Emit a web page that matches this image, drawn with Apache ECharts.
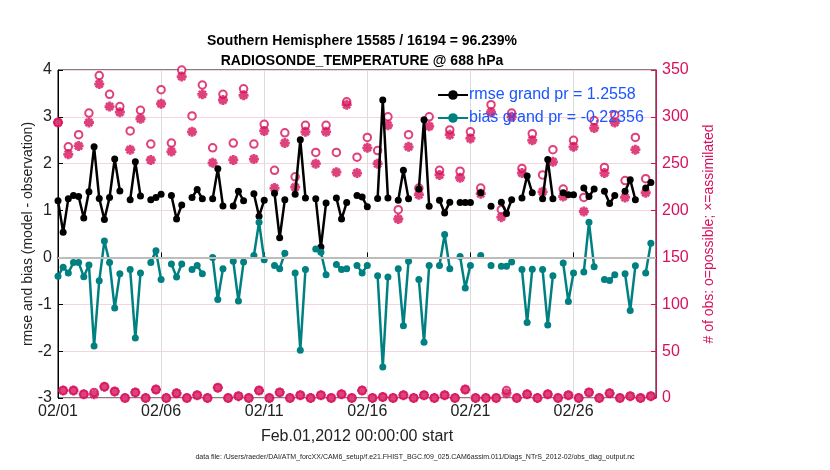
<!DOCTYPE html>
<html>
<head>
<meta charset="utf-8">
<script src="https://cdn.jsdelivr.net/npm/echarts@6/dist/echarts.min.js"></script>
<style>
html, body { margin: 0; padding: 0; background: #fff; }
#container { width: 830px; height: 470px; }
</style>
</head>
<body>
<div id="container"></div>
<script>
// 6-hourly values, 02/01 00Z .. 02/29 18Z (116 steps), null = no obs
var rmse = [
 1.21,0.54,1.25,1.32,1.30,0.84,1.40,2.36,1.26,0.81,1.28,2.10,1.42,null,1.23,2.04,1.31,null,1.23,1.28,
 1.35,null,1.32,0.82,1.12,null,1.28,1.45,1.25,null,1.25,1.89,1.10,null,1.10,1.41,1.21,null,1.36,0.88,
 1.22,null,1.37,0.42,1.23,null,1.35,2.51,1.27,null,1.25,0.22,1.16,null,1.27,0.82,1.17,null,1.32,1.29,
 1.08,null,1.26,3.36,1.27,null,1.22,1.86,1.25,null,1.46,2.94,1.09,null,1.22,0.95,1.18,null,1.17,1.17,
 1.17,null,1.38,null,1.09,null,1.18,0.94,1.23,null,1.27,1.74,1.38,null,1.25,2.09,1.25,null,1.38,1.34,
 1.34,null,1.48,1.30,1.46,null,1.41,1.15,1.32,null,1.41,1.66,1.23,null,1.48,1.60
];
var bias = [
 -0.40,-0.21,-0.33,-0.11,-0.11,-0.41,-0.16,-1.89,-0.50,0.35,-0.11,-1.08,-0.35,null,-0.26,-1.72,-0.33,null,-0.11,0.14,
 -0.47,null,-0.14,-0.42,-0.14,null,-0.26,-0.17,-0.35,null,0.00,-0.90,-0.24,null,-0.08,-0.93,-0.10,null,0.04,0.75,
 -0.05,null,-0.17,-0.24,0.09,null,-0.33,-1.98,-0.26,null,0.18,0.11,-0.37,null,-0.15,-0.26,-0.24,null,-0.17,-0.33,
 -0.17,null,-0.39,-2.34,-0.42,null,-0.24,-1.46,-0.08,null,-0.47,-1.81,-0.17,null,-0.17,0.49,-0.24,null,0.02,-0.65,
 -0.17,null,0.04,null,-0.17,null,-0.19,-0.19,-0.10,null,-0.26,-1.39,-0.25,null,-0.26,-1.44,-0.39,null,-0.12,-0.94,
 -0.33,null,-0.31,0.75,-0.20,null,-0.47,-0.49,-0.37,null,-0.35,-1.13,-0.18,null,-0.33,0.30
];
var nPossible = [
 294,8,268,8,281,4,304,6,344,12,324,7,311,0,285,6,307,0,271,9,
 329,0,272,5,350,0,301,3,334,0,267,11,324,0,272,2,330,0,271,8,
 292,0,243,6,283,0,236,3,291,0,262,3,291,0,262,4,316,0,257,8,
 278,0,264,1,300,0,201,3,281,0,224,3,300,0,243,3,286,0,242,9,
 284,0,224,0,313,0,201,8,304,0,245,4,282,0,238,4,265,0,223,3,
 275,0,214,6,296,0,246,5,302,0,232,2,278,0,234,2
];
var nAssim = [
 294,8,260,8,269,4,294,4,335,12,311,7,305,0,265,6,298,0,254,9,
 314,0,263,5,343,0,284,3,324,0,251,11,318,0,254,2,323,0,255,8,
 285,0,224,6,272,0,225,3,284,0,250,3,284,0,241,4,313,0,240,8,
 267,0,250,1,291,0,191,3,268,0,217,3,290,0,238,3,281,0,235,9,
 277,0,218,0,305,0,193,5,300,0,240,4,275,0,220,4,252,0,215,3,
 268,0,199,6,288,0,240,5,294,0,214,2,265,0,219,2
];
var rmseGrand = '1.2558';
var biasGrand = '-0.22356';

var red = '#d6115b';
var teal = '#008080';
var font = 'Liberation Sans, Arial, Helvetica, sans-serif';

// x in days since 02/01 00Z
function pairs(arr) {
    var res = [];
    for (var i = 0; i < arr.length; i++) {
        res.push([i * 0.25, arr[i] === null ? '-' : arr[i]]);
    }
    return res;
}

var asterisk = 'path://M5,0L5,10M0,5L10,5M1.5,1.5L8.5,8.5M8.5,1.5L1.5,8.5';

var myChart = echarts.init(document.getElementById('container'));
var option = {
    animation: false,
    backgroundColor: '#fff',
    textStyle: { fontFamily: font },
    title: {
        text: 'Southern Hemisphere 15585 / 16194 = 96.239%\nRADIOSONDE_TEMPERATURE @ 688 hPa',
        left: 357,
        top: 26,
        textAlign: 'center',
        textStyle: { fontSize: 14, fontWeight: 'bold', color: '#000', lineHeight: 20, fontFamily: font }
    },
    legend: {
        orient: 'vertical',
        left: 432,
        top: 82,
        itemWidth: 30,
        itemHeight: 12,
        itemGap: 7,
        data: ['rmse grand pr = ' + rmseGrand, 'bias grand pr = ' + biasGrand],
        textStyle: { color: '#1a55ff', fontSize: 16, padding: [0, 0, 0, -4], fontFamily: font }
    },
    grid: { left: 58, right: 174, top: 70, bottom: 72, show: true, borderColor: '#000', borderWidth: 1 },
    xAxis: {
        type: 'value',
        min: 0,
        max: 29,
        interval: 5,
        name: 'Feb.01,2012 00:00:00 start',
        nameLocation: 'middle',
        nameGap: 31,
        nameTextStyle: { fontSize: 16, color: '#222' },
        axisLine: { lineStyle: { color: '#000' } },
        axisTick: { inside: true, length: 5, lineStyle: { color: '#000' } },
        axisLabel: {
            fontSize: 16, color: '#222', margin: 6, showMaxLabel: false,
            formatter: function (v) {
                if (v > 28) return '';
                var d = v + 1;
                return '02/' + (d < 10 ? '0' + d : d);
            }
        },
        splitLine: { show: true, lineStyle: { color: '#dcdcdc' } }
    },
    yAxis: [{
        type: 'value',
        min: -3,
        max: 4,
        interval: 1,
        name: 'rmse and bias (model - observation)',
        nameLocation: 'middle',
        nameGap: 23,
        nameMoveOverlap: false,
        nameTextStyle: { fontSize: 14, color: '#222' },
        axisLine: { show: true, lineStyle: { color: '#000' } },
        axisTick: { show: true, inside: true, length: 5, lineStyle: { color: '#000' } },
        axisLabel: { fontSize: 16, color: '#222', margin: 6 },
        splitLine: { show: false }
    }, {
        type: 'value',
        min: 0,
        max: 350,
        interval: 50,
        position: 'right',
        name: '# of obs: o=possible; \u00d7=assimilated',
        nameLocation: 'middle',
        nameGap: 46,
        nameTextStyle: { fontSize: 14, color: red },
        axisLine: { show: true, lineStyle: { color: red } },
        axisTick: { show: true, inside: true, length: 5, lineStyle: { color: red } },
        axisLabel: { fontSize: 16, color: red, margin: 6 },
        splitLine: { show: true, lineStyle: { color: '#f4d4df' } }
    }],
    series: [{
        name: 'rmse grand pr = ' + rmseGrand,
        type: 'line',
        data: pairs(rmse),
        symbol: 'circle',
        symbolSize: 7,
        connectNulls: false,
        lineStyle: { color: '#000', width: 2.5 },
        itemStyle: { color: '#000' }
    }, {
        name: 'bias grand pr = ' + biasGrand,
        type: 'line',
        data: pairs(bias),
        symbol: 'circle',
        symbolSize: 7,
        connectNulls: false,
        lineStyle: { color: teal, width: 2.5 },
        itemStyle: { color: teal },
        markLine: {
            silent: true,
            symbol: 'none',
            label: { show: false },
            lineStyle: { color: '#bdbdbd', width: 2, type: 'solid' },
            data: [{ yAxis: 0 }]
        }
    }, {
        name: 'possible',
        type: 'scatter',
        yAxisIndex: 1,
        data: pairs(nPossible),
        symbol: 'emptyCircle',
        symbolSize: 7.5,
        itemStyle: { color: red, borderColor: red, borderWidth: 2 }
    }, {
        name: 'assimilated',
        type: 'scatter',
        yAxisIndex: 1,
        data: pairs(nAssim),
        symbol: asterisk,
        symbolSize: 10,
        itemStyle: { color: red, borderColor: red, borderWidth: 2.8 }
    }],
    graphic: [{
        type: 'text',
        left: 'center',
        top: 454,
        style: {
            text: 'data file: /Users/raeder/DAI/ATM_forcXX/CAM6_setup/f.e21.FHIST_BGC.f09_025.CAM6assim.011/Diags_NTrS_2012-02/obs_diag_output.nc',
            fontSize: 7,
            fill: '#222',
            fontFamily: font
        }
    }]
};
myChart.setOption(option);
</script>
</body>
</html>
